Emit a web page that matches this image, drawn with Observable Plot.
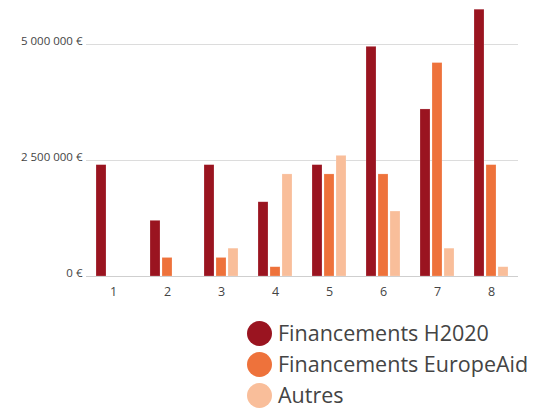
<!DOCTYPE html>
<html>
<head>
<meta charset="utf-8">
<script src="https://cdn.jsdelivr.net/npm/d3@7"></script>
<script src="https://cdn.jsdelivr.net/npm/@observablehq/plot@0.6"></script>
<style>
  html, body { margin: 0; padding: 0; background: #fff; }
  body { width: 545px; height: 409px; overflow: hidden; font-family: "Open Sans", sans-serif; }
  #legend { margin-left: 247px; margin-top: 16px; }
  .item { display: flex; align-items: center; height: 24px; line-height: 24px; margin-bottom: 7px; font-size: 21.5px; color: #444; white-space: nowrap; }
  .item:last-child { margin-bottom: 0; }
  .dot { width: 25px; height: 25px; border-radius: 50%; margin-right: 6px; flex: none; }
</style>
</head>
<body>
<div id="chart"></div>
<div id="legend"></div>
<script>
const groups = ["1", "2", "3", "4", "5", "6", "7", "8"];
const seriesNames = ["Financements H2020", "Financements EuropeAid", "Autres"];
const colors = ["#9a1420", "#ee723b", "#f9be9a"];
const h2020 =     [2400000, 1200000, 2400000, 1600000, 2400000, 4950000, 3600000, 5750000];
const europeAid = [0,       400000,  400000,  200000,  2200000, 2200000, 4600000, 2400000];
const autres =    [0,       0,       600000,  2200000, 2600000, 1400000, 600000,  200000];
const yTicks = [0, 2500000, 5000000];

const seriesValues = [h2020, europeAid, autres];
const data = [];
groups.forEach((g, i) => {
  seriesNames.forEach((s, j) => {
    data.push({group: g, series: s, value: seriesValues[j][i]});
  });
});

const fmt = d => d3.format(",")(d).replace(/,/g, " ") + " €";

const chart = Plot.plot({
  width: 545,
  height: 305,
  marginLeft: 85,
  marginRight: 27,
  marginTop: 0,
  marginBottom: 29,
  style: {fontFamily: "'Open Sans', sans-serif", color: "#555", background: "#fff"},
  fx: {domain: groups, padding: 0, label: null},
  x: {domain: seriesNames, paddingInner: 0.2, paddingOuter: 0.7, axis: null},
  y: {domain: [0, 5000000], range: [276, 44], axis: null},
  color: {domain: seriesNames, range: colors},
  marks: [
    Plot.ruleY(yTicks.slice(1), {stroke: "#dcdcdc", strokeWidth: 1}),
    Plot.barY(data, {fx: "group", x: "series", y: "value", fill: "series", stroke: "#fff", strokeOpacity: 0.35, strokeWidth: 0.6}),
    Plot.ruleY([0], {stroke: "#cfcfcf", strokeWidth: 1.2}),
    Plot.axisY(yTicks, {tickSize: 0, tickPadding: 4, tickFormat: fmt, fontSize: 11.5, dy: -3, fill: "#444", label: null}),
    Plot.axisFx({anchor: "bottom", tickSize: 0, tickPadding: 11, fontSize: 12.5, fill: "#444", label: null})
  ]
});
document.getElementById("chart").appendChild(chart);

const legend = document.getElementById("legend");
seriesNames.forEach((s, j) => {
  const item = document.createElement("div");
  item.className = "item";
  const dot = document.createElement("span");
  dot.className = "dot";
  dot.style.background = colors[j];
  const label = document.createElement("span");
  label.textContent = s;
  item.appendChild(dot);
  item.appendChild(label);
  legend.appendChild(item);
});
</script>
</body>
</html>
